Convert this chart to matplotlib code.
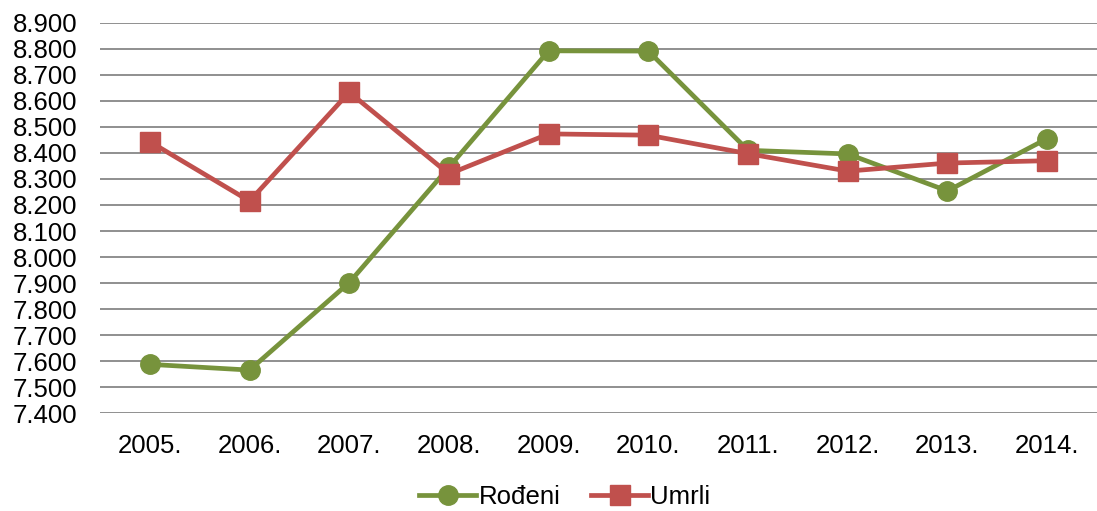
import numpy as np
import matplotlib.pyplot as plt
from matplotlib.ticker import FuncFormatter

plt.rcParams['font.family'] = ['Liberation Sans', 'DejaVu Sans']

years = ['2005.', '2006.', '2007.', '2008.', '2009.', '2010.', '2011.', '2012.', '2013.', '2014.']
rodeni = [7588, 7566, 7902, 8345, 8792, 8791, 8410, 8396, 8254, 8455]
umrli = [8443, 8215, 8633, 8319, 8473, 8468, 8397, 8330, 8361, 8370]

green = '#77933C'
red = '#C0504D'

fig = plt.figure(figsize=(10.97, 5.11), dpi=100)
ax = fig.add_axes([100/1097, 1 - 413.3/511, 997/1097, 390.6/511])

x = np.arange(len(years))
ax.plot(x, rodeni, color=green, lw=3.4, marker='o', ms=14, label='Rođeni', zorder=3)
ax.plot(x, umrli, color=red, lw=3.4, marker='s', ms=14, label='Umrli', zorder=4)

ax.set_xlim(-0.5, len(years) - 0.5)
ax.set_ylim(7400, 8900)
ax.set_yticks(np.arange(7400, 8901, 100))
ax.yaxis.set_major_formatter(FuncFormatter(lambda v, p: f'{v/1000:.3f}'))
ax.set_xticks(x)
ax.set_xticklabels(years)
ax.grid(axis='y', color='#878787', lw=1.3)
ax.set_axisbelow(True)
for s in ax.spines.values():
    s.set_visible(False)
ax.tick_params(length=0, labelsize=18.5, colors='black')
ax.tick_params(axis='y', pad=16.5)
ax.tick_params(axis='x', pad=15)

fig.legend(loc='center', bbox_to_anchor=(0.515, 0.027), ncol=2, frameon=False,
           fontsize=18.5, handlelength=2.2, handletextpad=0.1, columnspacing=1.2,
           borderaxespad=0)

fig.savefig('out.png', dpi=100)
